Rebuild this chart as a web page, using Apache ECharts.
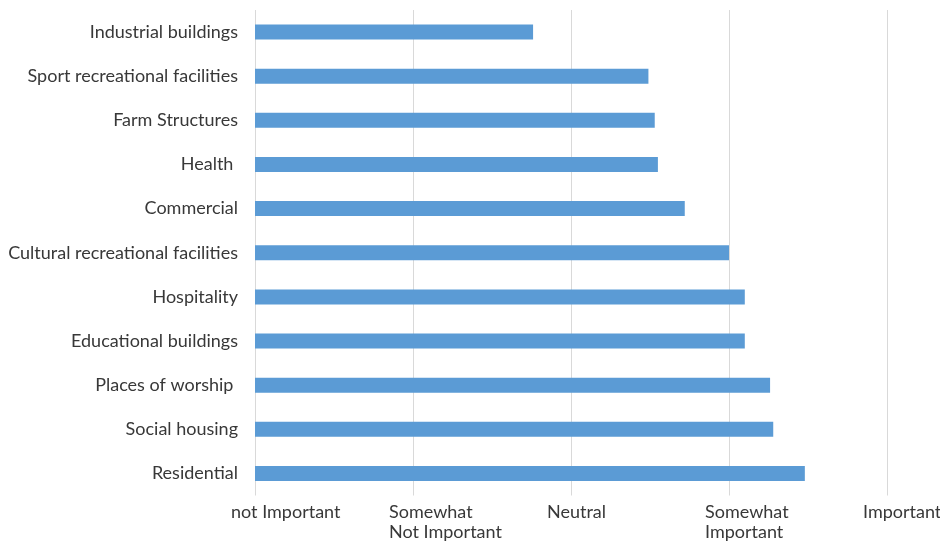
<!DOCTYPE html>
<html>
<head>
<meta charset="utf-8">
<script src="https://cdn.jsdelivr.net/npm/echarts@6/dist/echarts.min.js"></script>
<style>
  html, body { margin: 0; padding: 0; background: #fff; }
  #chart { width: 940px; height: 541px; }
</style>
</head>
<body>
<div id="chart"></div>
<script>
// Building types, listed top to bottom
const categories = [
  'Industrial buildings',
  'Sport recreational facilities',
  'Farm Structures',
  'Health ',
  'Commercial',
  'Cultural recreational facilities',
  'Hospitality',
  'Educational buildings',
  'Places of worship ',
  'Social housing',
  'Residential'
];

// Mean importance score (1 = not Important ... 5 = Important)
const scores = [2.76, 3.49, 3.53, 3.55, 3.72, 4.00, 4.10, 4.10, 4.26, 4.28, 4.48];

// Scale tick labels, from 1 to 5
const scaleLabels = [
  'not Important',
  'Somewhat\nNot Important',
  'Neutral',
  'Somewhat\nImportant',
  'Important'
];

const FONT = 'Lato';
const TEXT = '#383838';
const chart = echarts.init(document.getElementById('chart'));

chart.setOption({
  animation: false,
  grid: {
    left: 255, right: 53, top: 10, bottom: 45.5,
    containLabel: false,
    outerBoundsMode: 'none'
  },
  xAxis: {
    type: 'value',
    min: 1,
    max: 5,
    interval: 1,
    axisLine: { show: false },
    axisTick: { show: false },
    splitLine: { show: true, lineStyle: { color: '#d9d9d9', width: 1 } },
    axisLabel: {
      margin: 7,
      align: 'center',
      verticalAlign: 'top',
      formatter: function (v) {
        const t = scaleLabels[Math.round(v) - 1] || '';
        return t.split('\n').map(s => '{a|' + s + '}').join('\n');
      },
      rich: {
        a: {
          width: 48,
          align: 'left',
          fontFamily: FONT,
          fontSize: 18,
          lineHeight: 20,
          color: TEXT
        }
      }
    }
  },
  yAxis: {
    type: 'category',
    data: categories,
    inverse: true,
    axisLine: { show: false },
    axisTick: { show: false },
    axisLabel: {
      margin: 17,
      fontFamily: FONT,
      fontSize: 18,
      color: TEXT
    }
  },
  series: [{
    type: 'bar',
    data: scores,
    barWidth: 15,
    itemStyle: { color: '#5b9bd5' }
  }]
});
</script>
</body>
</html>
